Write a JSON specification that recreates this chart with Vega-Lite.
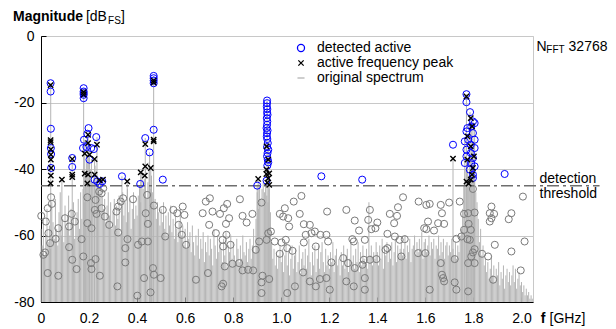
{
"$schema":"https://vega.github.io/schema/vega-lite/v6.json",
"width":492,"height":266,
"autosize":{"type":"none"},
"padding":{"left":41,"top":36,"right":83,"bottom":27},
"background":"white",
"config":{"view":{"stroke":"#c8c8c8","strokeWidth":1},"font":"Liberation Sans",
"legend":{"orient":"none","legendX":253,"legendY":5,"title":null,"labelFontSize":14,"labelFont":"Liberation Sans","labelColor":"black","symbolSize":50,"symbolStrokeWidth":1.3,"rowPadding":1,"labelOffset":9,"padding":0}},
"datasets":{
"spec":[
{"f":0,"m":-58},{"f":0.005,"m":-63},{"f":0.01,"m":-55},{"f":0.015,"m":-66},{"f":0.02,"m":-60},{"f":0.025,"m":-52},{"f":0.03,"m":-62},{"f":0.035,"m":-57},{"f":0.04,"m":-64},{"f":0.045,"m":-50},
{"f":0.05,"m":-56},{"f":0.055,"m":-61},{"f":0.06,"m":-49},{"f":0.065,"m":-58},{"f":0.07,"m":-63},{"f":0.075,"m":-53},{"f":0.08,"m":-47},{"f":0.085,"m":-60},{"f":0.09,"m":-55},{"f":0.095,"m":-62},
{"f":0.1,"m":-51},{"f":0.105,"m":-58},{"f":0.11,"m":-54},{"f":0.115,"m":-48},{"f":0.12,"m":-60},{"f":0.125,"m":-52},{"f":0.13,"m":-57},{"f":0.135,"m":-50},{"f":0.14,"m":-61},{"f":0.145,"m":-55},
{"f":0.15,"m":-53},{"f":0.155,"m":-49},{"f":0.16,"m":-58},{"f":0.165,"m":-47},{"f":0.17,"m":-55},{"f":0.175,"m":-46},{"f":0.18,"m":-50},{"f":0.185,"m":-42},{"f":0.19,"m":-38},{"f":0.195,"m":-36},
{"f":0.2,"m":-33},{"f":0.205,"m":-40},{"f":0.21,"m":-37},{"f":0.215,"m":-44},{"f":0.22,"m":-41},{"f":0.225,"m":-39},{"f":0.23,"m":-46},{"f":0.235,"m":-43},{"f":0.24,"m":-45},{"f":0.245,"m":-47},
{"f":0.25,"m":-44},{"f":0.255,"m":-48},{"f":0.26,"m":-52},{"f":0.265,"m":-49},{"f":0.27,"m":-56},{"f":0.275,"m":-51},{"f":0.28,"m":-47},{"f":0.285,"m":-54},{"f":0.29,"m":-50},{"f":0.295,"m":-58},
{"f":0.3,"m":-53},{"f":0.305,"m":-49},{"f":0.31,"m":-57},{"f":0.315,"m":-51},{"f":0.32,"m":-55},{"f":0.325,"m":-48},{"f":0.33,"m":-60},{"f":0.335,"m":-52},{"f":0.34,"m":-47},{"f":0.345,"m":-54},
{"f":0.35,"m":-50},{"f":0.355,"m":-56},{"f":0.36,"m":-46},{"f":0.365,"m":-53},{"f":0.37,"m":-49},{"f":0.375,"m":-58},{"f":0.38,"m":-52},{"f":0.385,"m":-47},{"f":0.39,"m":-55},{"f":0.395,"m":-51},
{"f":0.4,"m":-54},{"f":0.405,"m":-48},{"f":0.41,"m":-45},{"f":0.415,"m":-50},{"f":0.42,"m":-41},{"f":0.425,"m":-46},{"f":0.43,"m":-43},{"f":0.435,"m":-40},{"f":0.44,"m":-49},{"f":0.445,"m":-44},
{"f":0.45,"m":-38},{"f":0.455,"m":-46},{"f":0.46,"m":-42},{"f":0.465,"m":-47},{"f":0.47,"m":-51},{"f":0.475,"m":-49},{"f":0.48,"m":-55},{"f":0.485,"m":-50},{"f":0.49,"m":-53},{"f":0.495,"m":-57},
{"f":0.5,"m":-52},{"f":0.505,"m":-56},{"f":0.51,"m":-50},{"f":0.515,"m":-58},{"f":0.52,"m":-54},{"f":0.525,"m":-60},{"f":0.53,"m":-53},{"f":0.535,"m":-57},{"f":0.54,"m":-51},{"f":0.545,"m":-59},
{"f":0.55,"m":-55},{"f":0.555,"m":-61},{"f":0.56,"m":-53},{"f":0.565,"m":-58},{"f":0.57,"m":-62},{"f":0.575,"m":-56},{"f":0.58,"m":-52},{"f":0.585,"m":-60},{"f":0.59,"m":-57},{"f":0.595,"m":-63},
{"f":0.6,"m":-58},{"f":0.605,"m":-64},{"f":0.61,"m":-56},{"f":0.615,"m":-61},{"f":0.62,"m":-59},{"f":0.625,"m":-65},{"f":0.63,"m":-57},{"f":0.635,"m":-62},{"f":0.64,"m":-66},{"f":0.645,"m":-60},
{"f":0.65,"m":-63},{"f":0.655,"m":-58},{"f":0.66,"m":-67},{"f":0.665,"m":-61},{"f":0.67,"m":-64},{"f":0.675,"m":-59},{"f":0.68,"m":-68},{"f":0.685,"m":-62},{"f":0.69,"m":-65},{"f":0.695,"m":-60},
{"f":0.7,"m":-66},{"f":0.705,"m":-61},{"f":0.71,"m":-64},{"f":0.715,"m":-69},{"f":0.72,"m":-58},{"f":0.725,"m":-63},{"f":0.73,"m":-67},{"f":0.735,"m":-60},{"f":0.74,"m":-65},{"f":0.745,"m":-62},
{"f":0.75,"m":-64},{"f":0.755,"m":-68},{"f":0.76,"m":-61},{"f":0.765,"m":-66},{"f":0.77,"m":-59},{"f":0.775,"m":-70},{"f":0.78,"m":-63},{"f":0.785,"m":-65},{"f":0.79,"m":-60},{"f":0.795,"m":-67},
{"f":0.8,"m":-62},{"f":0.805,"m":-66},{"f":0.81,"m":-69},{"f":0.815,"m":-61},{"f":0.82,"m":-64},{"f":0.825,"m":-68},{"f":0.83,"m":-63},{"f":0.835,"m":-67},{"f":0.84,"m":-60},{"f":0.845,"m":-65},
{"f":0.85,"m":-66},{"f":0.855,"m":-62},{"f":0.86,"m":-68},{"f":0.865,"m":-64},{"f":0.87,"m":-61},{"f":0.875,"m":-67},{"f":0.88,"m":-63},{"f":0.885,"m":-58},{"f":0.89,"m":-65},{"f":0.895,"m":-55},
{"f":0.9,"m":-47},{"f":0.905,"m":-52},{"f":0.91,"m":-45},{"f":0.915,"m":-49},{"f":0.92,"m":-46},{"f":0.925,"m":-44},{"f":0.93,"m":-47},{"f":0.935,"m":-45},{"f":0.94,"m":-48},{"f":0.945,"m":-50},
{"f":0.95,"m":-46},{"f":0.955,"m":-53},{"f":0.96,"m":-62},{"f":0.965,"m":-67},{"f":0.97,"m":-64},{"f":0.975,"m":-69},{"f":0.98,"m":-65},{"f":0.985,"m":-70},{"f":0.99,"m":-66},{"f":0.995,"m":-63},
{"f":1,"m":-68},{"f":1.005,"m":-64},{"f":1.01,"m":-71},{"f":1.015,"m":-66},{"f":1.02,"m":-62},{"f":1.025,"m":-69},{"f":1.03,"m":-65},{"f":1.035,"m":-72},{"f":1.04,"m":-67},{"f":1.045,"m":-63},
{"f":1.05,"m":-70},{"f":1.055,"m":-66},{"f":1.06,"m":-64},{"f":1.065,"m":-71},{"f":1.07,"m":-68},{"f":1.075,"m":-63},{"f":1.08,"m":-72},{"f":1.085,"m":-67},{"f":1.09,"m":-65},{"f":1.095,"m":-69},
{"f":1.1,"m":-64},{"f":1.105,"m":-70},{"f":1.11,"m":-66},{"f":1.115,"m":-61},{"f":1.12,"m":-68},{"f":1.125,"m":-72},{"f":1.13,"m":-65},{"f":1.135,"m":-69},{"f":1.14,"m":-63},{"f":1.145,"m":-71},
{"f":1.15,"m":-67},{"f":1.155,"m":-63},{"f":1.16,"m":-70},{"f":1.165,"m":-65},{"f":1.17,"m":-62},{"f":1.175,"m":-68},{"f":1.18,"m":-71},{"f":1.185,"m":-64},{"f":1.19,"m":-69},{"f":1.195,"m":-66},
{"f":1.2,"m":-70},{"f":1.205,"m":-65},{"f":1.21,"m":-68},{"f":1.215,"m":-62},{"f":1.22,"m":-71},{"f":1.225,"m":-66},{"f":1.23,"m":-64},{"f":1.235,"m":-69},{"f":1.24,"m":-67},{"f":1.245,"m":-72},
{"f":1.25,"m":-65},{"f":1.255,"m":-69},{"f":1.26,"m":-63},{"f":1.265,"m":-70},{"f":1.27,"m":-66},{"f":1.275,"m":-64},{"f":1.28,"m":-71},{"f":1.285,"m":-67},{"f":1.29,"m":-62},{"f":1.295,"m":-68},
{"f":1.3,"m":-66},{"f":1.305,"m":-70},{"f":1.31,"m":-64},{"f":1.315,"m":-68},{"f":1.32,"m":-62},{"f":1.325,"m":-71},{"f":1.33,"m":-65},{"f":1.335,"m":-69},{"f":1.34,"m":-63},{"f":1.345,"m":-67},
{"f":1.35,"m":-68},{"f":1.355,"m":-64},{"f":1.36,"m":-70},{"f":1.365,"m":-50},{"f":1.37,"m":-66},{"f":1.375,"m":-63},{"f":1.38,"m":-69},{"f":1.385,"m":-65},{"f":1.39,"m":-67},{"f":1.395,"m":-62},
{"f":1.4,"m":-65},{"f":1.405,"m":-69},{"f":1.41,"m":-63},{"f":1.415,"m":-67},{"f":1.42,"m":-61},{"f":1.425,"m":-70},{"f":1.43,"m":-64},{"f":1.435,"m":-66},{"f":1.44,"m":-62},{"f":1.445,"m":-68},
{"f":1.45,"m":-64},{"f":1.455,"m":-67},{"f":1.46,"m":-62},{"f":1.465,"m":-69},{"f":1.47,"m":-65},{"f":1.475,"m":-61},{"f":1.48,"m":-68},{"f":1.485,"m":-63},{"f":1.49,"m":-66},{"f":1.495,"m":-64},
{"f":1.5,"m":-62},{"f":1.505,"m":-66},{"f":1.51,"m":-64},{"f":1.515,"m":-60},{"f":1.52,"m":-67},{"f":1.525,"m":-63},{"f":1.53,"m":-65},{"f":1.535,"m":-61},{"f":1.54,"m":-68},{"f":1.545,"m":-64},
{"f":1.55,"m":-63},{"f":1.555,"m":-60},{"f":1.56,"m":-66},{"f":1.565,"m":-62},{"f":1.57,"m":-65},{"f":1.575,"m":-61},{"f":1.58,"m":-64},{"f":1.585,"m":-59},{"f":1.59,"m":-67},{"f":1.595,"m":-62},
{"f":1.6,"m":-61},{"f":1.605,"m":-65},{"f":1.61,"m":-63},{"f":1.615,"m":-60},{"f":1.62,"m":-66},{"f":1.625,"m":-62},{"f":1.63,"m":-64},{"f":1.635,"m":-61},{"f":1.64,"m":-67},{"f":1.645,"m":-63},
{"f":1.65,"m":-64},{"f":1.655,"m":-60},{"f":1.66,"m":-66},{"f":1.665,"m":-62},{"f":1.67,"m":-65},{"f":1.675,"m":-61},{"f":1.68,"m":-67},{"f":1.685,"m":-63},{"f":1.69,"m":-62},{"f":1.695,"m":-66},
{"f":1.7,"m":-63},{"f":1.705,"m":-65},{"f":1.71,"m":-61},{"f":1.715,"m":-64},{"f":1.72,"m":-66},{"f":1.725,"m":-62},{"f":1.73,"m":-67},{"f":1.735,"m":-63},{"f":1.74,"m":-65},{"f":1.745,"m":-60},
{"f":1.75,"m":-58},{"f":1.755,"m":-52},{"f":1.76,"m":-45},{"f":1.765,"m":-40},{"f":1.77,"m":-44},{"f":1.775,"m":-38},{"f":1.78,"m":-42},{"f":1.785,"m":-36},{"f":1.79,"m":-41},{"f":1.795,"m":-35},
{"f":1.8,"m":-39},{"f":1.805,"m":-43},{"f":1.81,"m":-47},{"f":1.815,"m":-50},{"f":1.82,"m":-55},{"f":1.825,"m":-62},{"f":1.83,"m":-58},{"f":1.835,"m":-66},{"f":1.84,"m":-63},{"f":1.845,"m":-69},
{"f":1.85,"m":-67},{"f":1.855,"m":-71},{"f":1.86,"m":-68},{"f":1.865,"m":-73},{"f":1.87,"m":-70},{"f":1.875,"m":-66},{"f":1.88,"m":-72},{"f":1.885,"m":-69},{"f":1.89,"m":-74},{"f":1.895,"m":-70},
{"f":1.9,"m":-72},{"f":1.905,"m":-68},{"f":1.91,"m":-75},{"f":1.915,"m":-71},{"f":1.92,"m":-73},{"f":1.925,"m":-69},{"f":1.93,"m":-76},{"f":1.935,"m":-72},{"f":1.94,"m":-70},{"f":1.945,"m":-74},
{"f":1.95,"m":-71},{"f":1.955,"m":-75},{"f":1.96,"m":-72},{"f":1.965,"m":-69},{"f":1.97,"m":-74},{"f":1.975,"m":-70},{"f":1.98,"m":-76},{"f":1.985,"m":-73},{"f":1.99,"m":-71},{"f":1.995,"m":-75},
{"f":2,"m":-74},{"f":2.005,"m":-77},{"f":2.01,"m":-75},{"f":2.015,"m":-78},{"f":2.02,"m":-76},{"f":2.025,"m":-78},{"f":2.03,"m":-77},{"f":2.035,"m":-79},{"f":2.04,"m":-78},{"f":2.045,"m":-79},
{"f":0.0405,"m":-14.2},{"f":0.087,"m":-43.2},{"f":0.13,"m":-36.7},{"f":0.1775,"m":-15.7},{"f":0.196,"m":-29.7},{"f":0.233,"m":-30.4},{"f":0.202,"m":-35.7},{"f":0.223,"m":-37},{"f":0.182,"m":-31.2},{"f":0.337,"m":-42.2},{"f":0.359,"m":-43.7},{"f":0.415,"m":-41},{"f":0.434,"m":-30.7},{"f":0.452,"m":-35},{"f":0.457,"m":-39.7},{"f":0.469,"m":-12},{"f":0.9,"m":-45},{"f":0.904,"m":-43},{"f":0.941,"m":-19.4},{"f":0.946,"m":-34.2},{"f":0.95,"m":-41.3},{"f":1.715,"m":-36.9},{"f":1.771,"m":-17.5},{"f":1.786,"m":-22.9},{"f":1.798,"m":-25.7},{"f":1.805,"m":-26.2},{"f":1.764,"m":-31.7},{"f":1.791,"m":-27.2}
],
"noise":[
{"f":0.042,"m":-48.5},{"f":0.045,"m":-50.5},{"f":0.028,"m":-51.8},{"f":0.02,"m":-55.8},{"f":0.001,"m":-54.1},{"f":0.072,"m":-57.8},{"f":0.031,"m":-59.3},{"f":0.061,"m":-61},{"f":0.038,"m":-62.3},{"f":0.017,"m":-65.1},{"f":0.01,"m":-65.8},{"f":0.028,"m":-71.3},{"f":0.072,"m":-72.1},{"f":0.1,"m":-54.8},{"f":0.128,"m":-53.5},{"f":0.141,"m":-55.8},{"f":0.117,"m":-57.3},{"f":0.169,"m":-61.1},{"f":0.117,"m":-63.5},{"f":0.13,"m":-67.3},{"f":0.148,"m":-70.1},{"f":0.176,"m":-66.3},{"f":0.193,"m":-56.3},{"f":0.21,"m":-57.8},{"f":0.193,"m":-48.5},{"f":0.227,"m":-49.3},{"f":0.224,"m":-52.3},{"f":0.252,"m":-51.8},{"f":0.231,"m":-53.5},{"f":0.266,"m":-54.3},{"f":0.284,"m":-56.8},{"f":0.208,"m":-68.3},{"f":0.21,"m":-70.1},{"f":0.227,"m":-67.1},{"f":0.245,"m":-72.1},{"f":0.242,"m":-46.8},{"f":0.259,"m":-45.8},{"f":0.252,"m":-47.3},{"f":0.321,"m":-51.3},{"f":0.332,"m":-49.8},{"f":0.314,"m":-52.8},{"f":0.342,"m":-48.8},{"f":0.383,"m":-49.1},{"f":0.36,"m":-61.1},{"f":0.351,"m":-63.8},{"f":0.351,"m":-68.1},{"f":0.321,"m":-59.1},{"f":0.318,"m":-75.3},{"f":0.401,"m":-78.1},{"f":0.404,"m":-62.8},{"f":0.42,"m":-61.8},{"f":0.436,"m":-53.3},{"f":0.445,"m":-56.5},{"f":0.442,"m":-47.8},{"f":0.47,"m":-51},{"f":0.445,"m":-61.8},{"f":0.466,"m":-69.8},{"f":0.47,"m":-71.8},{"f":0.429,"m":-72.8},{"f":0.456,"m":-77.1},{"f":0.498,"m":-72.8},{"f":0.507,"m":-52.3},{"f":0.517,"m":-60.3},{"f":0.551,"m":-52.3},{"f":0.567,"m":-53.3},{"f":0.573,"m":-56.8},{"f":0.59,"m":-51.3},{"f":0.597,"m":-53.8},{"f":0.586,"m":-59.8},{"f":0.604,"m":-62.8},{"f":0.645,"m":-73.3},{"f":0.673,"m":-53.3},
{"f":0.686,"m":-49.8},{"f":0.703,"m":-48.8},{"f":0.714,"m":-52.8},{"f":0.7,"m":-56.8},{"f":0.745,"m":-53.5},{"f":0.761,"m":-51.8},{"f":0.775,"m":-50.5},{"f":0.783,"m":-54.8},{"f":0.77,"m":-56.5},{"f":0.728,"m":-59.3},{"f":0.756,"m":-61.3},{"f":0.758,"m":-63.3},{"f":0.772,"m":-59.8},{"f":0.789,"m":-62.8},{"f":0.828,"m":-49.1},{"f":0.839,"m":-54.1},{"f":0.856,"m":-56.1},{"f":0.88,"m":-53.5},{"f":0.918,"m":-50.1},{"f":0.894,"m":-64.3},{"f":0.908,"m":-61.8},{"f":0.946,"m":-59.3},{"f":0.939,"m":-61.3},{"f":0.957,"m":-58.8},{"f":0.973,"m":-61.8},{"f":1.001,"m":-62.1},{"f":1.019,"m":-61.3},{"f":0.994,"m":-53.5},{"f":1.015,"m":-51.8},{"f":1.008,"m":-54.3},{"f":1.029,"m":-54.8},{"f":1.033,"m":-57.3},{"f":1.052,"m":-49.8},{"f":1.084,"m":-48.1},{"f":1.077,"m":-53.5},{"f":1.094,"m":-56.6},{"f":1.119,"m":-56.8},{"f":1.102,"m":-59.8},{"f":1.126,"m":-59.3},{"f":1.14,"m":-58.8},{"f":1.163,"m":-59.8},{"f":1.188,"m":-59.8},{"f":1.191,"m":-52.8},{"f":1.195,"m":-61.8},{"f":1.144,"m":-63.3},{"f":1.094,"m":-62.1},{"f":1.047,"m":-64.6},{"f":0.994,"m":-65.5},{"f":1.025,"m":-63.8},{"f":1.271,"m":-52.3},{"f":1.306,"m":-55.5},{"f":1.324,"m":-58.5},{"f":1.296,"m":-61.1},{"f":1.302,"m":-61.8},{"f":1.348,"m":-61.3},{"f":1.344,"m":-67.3},{"f":1.258,"m":-66.8},{"f":1.278,"m":-68.3},{"f":1.306,"m":-69.8},{"f":1.209,"m":-68.1},{"f":1.338,"m":-68.8},{"f":1.348,"m":-72.8},{"f":0.695,"m":-71.3},{"f":0.765,"m":-69.3},{"f":0.797,"m":-68.5},{"f":0.825,"m":-68.3},{"f":0.839,"m":-70.5},{"f":0.862,"m":-70.3},{"f":0.883,"m":-70.5},{"f":0.922,"m":-72.1},{"f":0.918,"m":-74.1},{"f":0.95,"m":-73.1},{"f":0.758,"m":-74.5},{"f":0.752,"m":-75.3},{"f":1.091,"m":-71.1},{"f":1.119,"m":-73.8},{"f":1.161,"m":-73.1},{"f":1.188,"m":-72.8},{"f":1.144,"m":-75.3},{"f":1.057,"m":-75.3},{"f":1.025,"m":-77.3},{"f":1.271,"m":-73.8},{"f":1.302,"m":-75.3},{"f":0.918,"m":-77.3},{"f":1.202,"m":-76.3},
{"f":1.369,"m":-52.3},{"f":1.362,"m":-55.3},{"f":1.375,"m":-58.1},{"f":1.4,"m":-56.1},{"f":1.392,"m":-57.8},{"f":1.452,"m":-53.5},{"f":1.486,"m":-51.5},{"f":1.482,"m":-54.1},{"f":1.47,"m":-56.3},{"f":1.442,"m":-59.5},{"f":1.473,"m":-60.3},{"f":1.493,"m":-61.3},{"f":1.514,"m":-61.1},{"f":1.507,"m":-48.5},{"f":1.572,"m":-49.8},{"f":1.604,"m":-50.8},{"f":1.618,"m":-50.5},{"f":1.611,"m":-55.8},{"f":1.595,"m":-57.8},{"f":1.604,"m":-58.1},{"f":1.636,"m":-58.5},{"f":1.653,"m":-56.3},{"f":1.678,"m":-56.5},{"f":1.669,"m":-53.3},{"f":1.664,"m":-50.8},{"f":1.699,"m":-50.1},{"f":1.743,"m":-49.8},{"f":1.761,"m":-53.5},{"f":1.778,"m":-53.3},{"f":1.805,"m":-53.1},{"f":1.78,"m":-56.5},{"f":1.761,"m":-58.3},{"f":1.789,"m":-58.3},{"f":1.775,"m":-61.1},{"f":1.805,"m":-64.1},{"f":1.798,"m":-65.1},{"f":1.791,"m":-66.3},{"f":1.778,"m":-68.3},{"f":1.805,"m":-68.3},{"f":1.75,"m":-60.3},{"f":1.785,"m":-61.3},{"f":1.868,"m":-53.3},{"f":1.875,"m":-54.8},{"f":1.886,"m":-53.5},{"f":1.868,"m":-55.8},{"f":1.875,"m":-51.3},{"f":1.958,"m":-53.3},{"f":1.947,"m":-55.1},{"f":2.006,"m":-48.3},{"f":2.013,"m":-61.8},{"f":1.958,"m":-64.8},{"f":1.889,"m":-62.8},{"f":1.861,"m":-66.3},{"f":1.836,"m":-65.5},{"f":1.798,"m":-46},{"f":1.434,"m":-64.3},{"f":1.442,"m":-63.8},{"f":1.396,"m":-67.1},{"f":1.5,"m":-66.3},{"f":1.57,"m":-65.3},{"f":1.6,"m":-65.3},{"f":1.664,"m":-68.3},{"f":1.722,"m":-67.1},{"f":1.674,"m":-72.8},{"f":1.678,"m":-73.8},{"f":1.722,"m":-74.1},{"f":1.618,"m":-76.3},{"f":1.778,"m":-76.8},{"f":1.882,"m":-73.3},{"f":1.997,"m":-70.5},{"f":1.369,"m":-67.3},{"f":1.348,"m":-76.3},{"f":1.669,"m":-71.8},{"f":1.729,"m":-76.3},{"f":1.729,"m":-61}
],
"active":[
{"f":0.04,"m":-14.2,"type":"detected active"},{"f":0.04,"m":-16.7,"type":"detected active"},{"f":0.041,"m":-27.9,"type":"detected active"},{"f":0.041,"m":-33.7,"type":"detected active"},{"f":0.042,"m":-35.5,"type":"detected active"},{"f":0.042,"m":-39.7,"type":"detected active"},{"f":0.13,"m":-36.7,"type":"detected active"},{"f":0.13,"m":-39.4,"type":"detected active"},{"f":0.1775,"m":-15.7,"type":"detected active"},{"f":0.1775,"m":-16.7,"type":"detected active"},{"f":0.1775,"m":-17.2,"type":"detected active"},{"f":0.1775,"m":-17.7,"type":"detected active"},{"f":0.1775,"m":-18.7,"type":"detected active"},{"f":0.198,"m":-27.7,"type":"detected active"},{"f":0.193,"m":-29.4,"type":"detected active"},{"f":0.23,"m":-30.4,"type":"detected active"},{"f":0.179,"m":-31.2,"type":"detected active"},{"f":0.175,"m":-33.7,"type":"detected active"},{"f":0.189,"m":-33.4,"type":"detected active"},{"f":0.209,"m":-33.7,"type":"detected active"},{"f":0.22,"m":-34,"type":"detected active"},{"f":0.202,"m":-37.2,"type":"detected active"},{"f":0.223,"m":-43.2,"type":"detected active"},{"f":0.234,"m":-43.7,"type":"detected active"},{"f":0.244,"m":-44.5,"type":"detected active"},{"f":0.255,"m":-43.7,"type":"detected active"},{"f":0.337,"m":-42.2,"type":"detected active"},{"f":0.413,"m":-44.5,"type":"detected active"},{"f":0.434,"m":-30.7,"type":"detected active"},{"f":0.452,"m":-35,"type":"detected active"},{"f":0.469,"m":-12,"type":"detected active"},{"f":0.469,"m":-12.7,"type":"detected active"},{"f":0.469,"m":-13.4,"type":"detected active"},{"f":0.469,"m":-14.2,"type":"detected active"},{"f":0.469,"m":-28.2,"type":"detected active"},{"f":0.507,"m":-43.2,"type":"detected active"},{"f":0.9,"m":-45,"type":"detected active"},{"f":0.939,"m":-43.5,"type":"detected active"},
{"f":0.941,"m":-19.4,"type":"detected active"},{"f":0.941,"m":-20.2,"type":"detected active"},{"f":0.94,"m":-21.2,"type":"detected active"},{"f":0.942,"m":-22,"type":"detected active"},{"f":0.941,"m":-23,"type":"detected active"},{"f":0.943,"m":-23.7,"type":"detected active"},{"f":0.94,"m":-24.7,"type":"detected active"},{"f":0.942,"m":-25.7,"type":"detected active"},{"f":0.941,"m":-26.7,"type":"detected active"},{"f":0.939,"m":-27.7,"type":"detected active"},{"f":0.943,"m":-28.4,"type":"detected active"},{"f":0.941,"m":-29.2,"type":"detected active"},{"f":0.94,"m":-30.2,"type":"detected active"},{"f":0.942,"m":-31,"type":"detected active"},{"f":0.944,"m":-32.2,"type":"detected active"},{"f":0.941,"m":-33.4,"type":"detected active"},{"f":0.946,"m":-34.2,"type":"detected active"},{"f":0.943,"m":-35.2,"type":"detected active"},{"f":0.941,"m":-36.2,"type":"detected active"},{"f":0.944,"m":-37.2,"type":"detected active"},{"f":0.946,"m":-38,"type":"detected active"},{"f":0.942,"m":-39,"type":"detected active"},
{"f":1.167,"m":-42.2,"type":"detected active"},{"f":1.337,"m":-43.2,"type":"detected active"},{"f":1.715,"m":-32.7,"type":"detected active"},{"f":1.771,"m":-17.5,"type":"detected active"},{"f":1.771,"m":-19.9,"type":"detected active"},{"f":1.786,"m":-22.9,"type":"detected active"},{"f":1.798,"m":-25.7,"type":"detected active"},{"f":1.805,"m":-26.2,"type":"detected active"},{"f":1.775,"m":-27.7,"type":"detected active"},{"f":1.771,"m":-28.7,"type":"detected active"},{"f":1.791,"m":-27.2,"type":"detected active"},{"f":1.798,"m":-29.2,"type":"detected active"},{"f":1.778,"m":-31.2,"type":"detected active"},{"f":1.805,"m":-31.2,"type":"detected active"},{"f":1.764,"m":-31.7,"type":"detected active"},{"f":1.789,"m":-32.7,"type":"detected active"},{"f":1.771,"m":-34.2,"type":"detected active"},{"f":1.805,"m":-33.7,"type":"detected active"},{"f":1.789,"m":-35.2,"type":"detected active"},{"f":1.771,"m":-36.2,"type":"detected active"},{"f":1.798,"m":-36.7,"type":"detected active"},{"f":1.764,"m":-38.2,"type":"detected active"},{"f":1.791,"m":-38.2,"type":"detected active"},{"f":1.805,"m":-39.2,"type":"detected active"},{"f":1.785,"m":-40.2,"type":"detected active"},{"f":1.798,"m":-41.7,"type":"detected active"},{"f":1.798,"m":-42.7,"type":"detected active"},{"f":1.93,"m":-41.5,"type":"detected active"},
{"f":0.04,"m":-14.8,"type":"active frequency peak"},{"f":0.04,"m":-31.3,"type":"active frequency peak"},{"f":0.04,"m":-31.9,"type":"active frequency peak"},{"f":0.041,"m":-34.1,"type":"active frequency peak"},{"f":0.041,"m":-35.7,"type":"active frequency peak"},{"f":0.041,"m":-37.2,"type":"active frequency peak"},{"f":0.042,"m":-39.7,"type":"active frequency peak"},{"f":0.041,"m":-42,"type":"active frequency peak"},{"f":0.04,"m":-44.3,"type":"active frequency peak"},{"f":0.087,"m":-43.2,"type":"active frequency peak"},{"f":0.13,"m":-37,"type":"active frequency peak"},{"f":0.13,"m":-41.7,"type":"active frequency peak"},{"f":0.13,"m":-42.4,"type":"active frequency peak"},{"f":0.1775,"m":-16.9,"type":"active frequency peak"},{"f":0.1775,"m":-17.6,"type":"active frequency peak"},{"f":0.196,"m":-29.7,"type":"active frequency peak"},{"f":0.196,"m":-32.2,"type":"active frequency peak"},{"f":0.233,"m":-32.7,"type":"active frequency peak"},{"f":0.182,"m":-35.4,"type":"active frequency peak"},{"f":0.202,"m":-35.7,"type":"active frequency peak"},{"f":0.223,"m":-37,"type":"active frequency peak"},{"f":0.182,"m":-41.4,"type":"active frequency peak"},{"f":0.196,"m":-41.7,"type":"active frequency peak"},{"f":0.223,"m":-41.7,"type":"active frequency peak"},{"f":0.193,"m":-44.3,"type":"active frequency peak"},{"f":0.244,"m":-43.4,"type":"active frequency peak"},{"f":0.258,"m":-43.2,"type":"active frequency peak"},{"f":0.359,"m":-43.7,"type":"active frequency peak"},{"f":0.415,"m":-41,"type":"active frequency peak"},{"f":0.432,"m":-42,"type":"active frequency peak"},{"f":0.434,"m":-39.2,"type":"active frequency peak"},{"f":0.457,"m":-39.7,"type":"active frequency peak"},{"f":0.434,"m":-32.5,"type":"active frequency peak"},{"f":0.469,"m":-31.7,"type":"active frequency peak"},{"f":0.469,"m":-31.2,"type":"active frequency peak"},{"f":0.469,"m":-13.4,"type":"active frequency peak"},{"f":0.469,"m":-14,"type":"active frequency peak"},{"f":0.904,"m":-43,"type":"active frequency peak"},{"f":0.946,"m":-42.8,"type":"active frequency peak"},{"f":0.95,"m":-41.3,"type":"active frequency peak"},{"f":0.939,"m":-40.2,"type":"active frequency peak"},{"f":0.939,"m":-33.2,"type":"active frequency peak"},{"f":0.946,"m":-37.2,"type":"active frequency peak"},{"f":0.942,"m":-44.1,"type":"active frequency peak"},{"f":0.95,"m":-44.8,"type":"active frequency peak"},{"f":0.938,"m":-41.5,"type":"active frequency peak"},{"f":1.715,"m":-36.9,"type":"active frequency peak"},{"f":1.771,"m":-18.2,"type":"active frequency peak"},{"f":1.789,"m":-24.7,"type":"active frequency peak"},{"f":1.794,"m":-27.2,"type":"active frequency peak"},{"f":1.775,"m":-30.2,"type":"active frequency peak"},{"f":1.789,"m":-33.2,"type":"active frequency peak"},{"f":1.802,"m":-36.2,"type":"active frequency peak"},{"f":1.775,"m":-37.2,"type":"active frequency peak"},{"f":1.798,"m":-39.7,"type":"active frequency peak"},{"f":1.794,"m":-41.7,"type":"active frequency peak"},{"f":1.771,"m":-43.8,"type":"active frequency peak"},{"f":1.78,"m":-44.4,"type":"active frequency peak"},{"f":1.789,"m":-43.2,"type":"active frequency peak"}
],
"thr":[{"f":0,"f2":2.325,"m":-45}],
"txt":[{"t":"[dB","x":0.187,"y":5.8},{"t":"]","x":0.333,"y":5.8},{"t":"N","x":2.063,"y":-3.3},{"t":"32768","x":2.196,"y":-3.3},{"t":"detection","x":2.075,"y":-42.95},{"t":"threshold","x":2.075,"y":-47.6},{"t":"[GHz]","x":2.117,"y":-85.2}],
"txtb":[{"t":"Magnitude","x":-0.1165,"y":5.8},{"t":"f","x":2.08,"y":-85.2}],
"txts":[{"t":"FS","x":0.279,"y":4.6},{"t":"FFT","x":2.1036,"y":-4.15}]
},
"layer":[
{"data":{"name":"spec"},"mark":{"type":"rule","color":"#b4b4b4","strokeWidth":1},
 "encoding":{
  "x":{"field":"f","type":"quantitative","title":null,"scale":{"domain":[0,2.048],"nice":false,"zero":false},
   "axis":{"values":[0,0.2,0.4,0.6,0.8,1,1.2,1.4,1.6,1.8,2],"labelExpr":"datum.value == 0 ? '0' : format(datum.value, '.1f')","grid":false,"domainColor":"black","tickColor":"black","tickSize":-5,"tickWidth":1,"labelFontSize":14,"labelFont":"Liberation Sans","labelColor":"black","labelPadding":14,"labelFlush":false,"labelOverlap":false}},
  "y":{"field":"m","type":"quantitative","title":null,"scale":{"domain":[-80,0],"nice":false,"zero":false},
   "axis":{"values":[-80,-70,-60,-50,-40,-30,-20,-10,0],"labelExpr":"datum.value % 20 == 0 ? '' + datum.value : ''","grid":true,"gridColor":"#c8c8c8","gridOpacity":{"condition":{"test":"datum.value % 20 == 0","value":1},"value":0},"domainColor":"black","tickColor":"black","tickSize":-5,"tickWidth":1,"labelFontSize":14,"labelFont":"Liberation Sans","labelColor":"black","labelPadding":12,"labelFlush":false,"labelOverlap":false}},
  "y2":{"datum":-80}}},
{"data":{"name":"noise"},"mark":{"type":"point","filled":false,"color":"#7a7a7a","size":50,"strokeWidth":1,"opacity":1},
 "encoding":{"x":{"field":"f","type":"quantitative","title":null},"y":{"field":"m","type":"quantitative","title":null}}},
{"data":{"name":"thr"},"mark":{"type":"rule","color":"#6e6e6e","strokeWidth":1.5,"strokeDash":[12,4,3,4]},
 "encoding":{"x":{"field":"f","type":"quantitative","title":null},"x2":{"field":"f2"},"y":{"field":"m","type":"quantitative","title":null}}},
{"data":{"name":"active"},"transform":[{"filter":"datum.type == 'detected active'"}],"mark":{"type":"point","filled":false,"size":50,"strokeWidth":1,"opacity":1},
 "encoding":{"x":{"field":"f","type":"quantitative","title":null},"y":{"field":"m","type":"quantitative","title":null},
  "color":{"field":"type","type":"nominal","scale":{"domain":["detected active","active frequency peak","original spectrum"],"range":["#0000ff","#000000","#b4b4b4"]}},
  "shape":{"field":"type","type":"nominal","scale":{"domain":["detected active","active frequency peak","original spectrum"],"range":["circle","M-0.75,-0.75L0.75,0.75M0.75,-0.75L-0.75,0.75","stroke"]}}}},
{"data":{"name":"active"},"transform":[{"filter":"datum.type == 'active frequency peak'"}],"mark":{"type":"point","filled":false,"size":50,"strokeWidth":1.4,"opacity":1},
 "encoding":{"x":{"field":"f","type":"quantitative","title":null},"y":{"field":"m","type":"quantitative","title":null},
  "color":{"field":"type","type":"nominal","scale":{"domain":["detected active","active frequency peak","original spectrum"],"range":["#0000ff","#000000","#b4b4b4"]}},
  "shape":{"field":"type","type":"nominal","scale":{"domain":["detected active","active frequency peak","original spectrum"],"range":["circle","M-0.75,-0.75L0.75,0.75M0.75,-0.75L-0.75,0.75","stroke"]}}}},
{"data":{"name":"txt"},"mark":{"type":"text","align":"left","baseline":"middle","fontSize":14,"font":"Liberation Sans","color":"black"},
 "encoding":{"x":{"field":"x","type":"quantitative","title":null},"y":{"field":"y","type":"quantitative","title":null},"text":{"field":"t"}}},
{"data":{"name":"txtb"},"mark":{"type":"text","align":"left","baseline":"middle","fontSize":14,"fontWeight":"bold","font":"Liberation Sans","color":"black"},
 "encoding":{"x":{"field":"x","type":"quantitative","title":null},"y":{"field":"y","type":"quantitative","title":null},"text":{"field":"t"}}},
{"data":{"name":"txts"},"mark":{"type":"text","align":"left","baseline":"middle","fontSize":10,"font":"Liberation Sans","color":"black"},
 "encoding":{"x":{"field":"x","type":"quantitative","title":null},"y":{"field":"y","type":"quantitative","title":null},"text":{"field":"t"}}}
]
}
